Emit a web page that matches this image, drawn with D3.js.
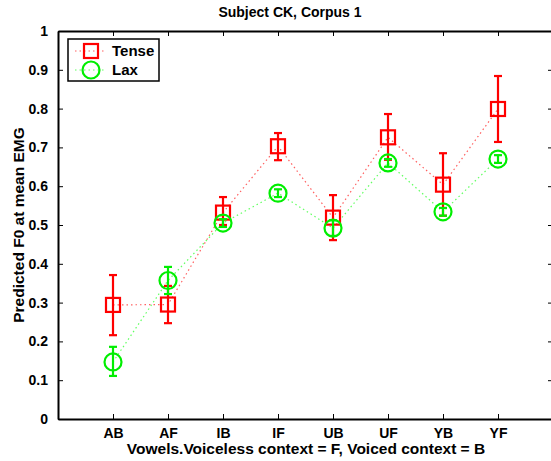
<!DOCTYPE html>
<html><head><meta charset="utf-8">
<script src="https://cdn.jsdelivr.net/npm/d3@7"></script>
<style>body{margin:0;background:#fff}svg{display:block}text{font-family:"Liberation Sans",Arial,sans-serif;font-weight:bold}</style>
</head><body>
<svg id="c" width="551" height="461"></svg>
<script>
const categories = ["AB","AF","IB","IF","UB","UF","YB","YF"];
const tenseMean = [0.294,0.295,0.532,0.703,0.519,0.726,0.604,0.799];
const tenseLow  = [0.216,0.247,0.500,0.667,0.461,0.668,0.524,0.714];
const tenseHigh = [0.371,0.343,0.572,0.737,0.577,0.786,0.685,0.884];
const laxMean = [0.147,0.357,0.505,0.582,0.492,0.660,0.534,0.670];
const laxLow  = [0.111,0.322,0.495,0.572,0.472,0.650,0.524,0.660];
const laxHigh = [0.186,0.392,0.515,0.592,0.512,0.670,0.544,0.680];
const yTicks = [0,0.1,0.2,0.3,0.4,0.5,0.6,0.7,0.8,0.9,1];

const svg = d3.select("#c");
const L=58, R=553, T=31, B=419;
const x = d3.scaleLinear().domain([0,9]).range([L,R]);
const y = d3.scaleLinear().domain([0,1]).range([B,T]);

// axes
const gx = svg.append("g").attr("transform",`translate(0,${B})`)
  .call(d3.axisBottom(x).tickValues(d3.range(1,9)).tickFormat(d=>categories[d-1]).tickSizeInner(-5).tickSizeOuter(0).tickPadding(9));
const gxt = svg.append("g").attr("transform",`translate(0,${T})`)
  .call(d3.axisTop(x).tickValues(d3.range(1,9)).tickFormat("").tickSizeInner(-5).tickSizeOuter(0));
const gy = svg.append("g").attr("transform",`translate(${L},0)`)
  .call(d3.axisLeft(y).tickValues(yTicks).tickFormat(d=>d3.format("")(+d.toFixed(1))).tickSizeInner(-5).tickSizeOuter(0).tickPadding(10));
const gyr = svg.append("g").attr("transform",`translate(${R},0)`)
  .call(d3.axisRight(y).tickValues(yTicks).tickFormat("").tickSizeInner(-5).tickSizeOuter(0));
[gx,gxt,gy,gyr].forEach(g=>{
  g.selectAll(".domain").attr("stroke","#000").attr("stroke-width",2);
  g.selectAll(".tick line").attr("stroke","#000").attr("stroke-width",1);
  g.selectAll("text").attr("font-size",14).attr("fill","#000").attr("font-family","Liberation Sans, Arial, sans-serif").attr("font-weight","bold");
});
gx.selectAll("text").attr("dy","0.71em");

// lines
const line = d3.line().x((d,i)=>x(i+1)).y(d=>y(d));
svg.append("path").datum(tenseMean).attr("d",line).attr("fill","none").attr("stroke","#ff6060").attr("stroke-width",1.2).attr("stroke-dasharray","1.5,3");
svg.append("path").datum(laxMean).attr("d",line).attr("fill","none").attr("stroke","#60ff60").attr("stroke-width",1.2).attr("stroke-dasharray","1.5,3");

function errbars(lo,hi,col){
  const g=svg.append("g").attr("stroke",col).attr("stroke-width",2.2).attr("fill","none");
  categories.forEach((c,i)=>{
    const cx=x(i+1);
    g.append("line").attr("x1",cx).attr("x2",cx).attr("y1",y(lo[i])).attr("y2",y(hi[i]));
    g.append("line").attr("x1",cx-4).attr("x2",cx+4).attr("y1",y(lo[i])).attr("y2",y(lo[i]));
    g.append("line").attr("x1",cx-4).attr("x2",cx+4).attr("y1",y(hi[i])).attr("y2",y(hi[i]));
  });
}
errbars(tenseLow,tenseHigh,"#ff0000");
svg.append("g").selectAll("rect").data(tenseMean).join("rect")
  .attr("x",(d,i)=>x(i+1)-7).attr("y",d=>y(d)-7).attr("width",14).attr("height",14)
  .attr("fill","none").attr("stroke","#ff0000").attr("stroke-width",2.2);
errbars(laxLow,laxHigh,"#00ee00");
svg.append("g").selectAll("circle").data(laxMean).join("circle")
  .attr("cx",(d,i)=>x(i+1)).attr("cy",d=>y(d)).attr("r",8.5)
  .attr("fill","none").attr("stroke","#00ee00").attr("stroke-width",2.2);

// legend
const lg=svg.append("g");
lg.append("rect").attr("x",68).attr("y",39).attr("width",91).attr("height",42).attr("fill","#fff").attr("stroke","#000").attr("stroke-width",1.5);
lg.append("line").attr("x1",75).attr("x2",106).attr("y1",51).attr("y2",51).attr("stroke","#ff6060").attr("stroke-width",1.2).attr("stroke-dasharray","1.5,3");
lg.append("rect").attr("x",84).attr("y",44).attr("width",14).attr("height",14).attr("fill","none").attr("stroke","#ff0000").attr("stroke-width",2.2);
lg.append("line").attr("x1",75).attr("x2",106).attr("y1",70).attr("y2",70).attr("stroke","#60ff60").attr("stroke-width",1.2).attr("stroke-dasharray","1.5,3");
lg.append("circle").attr("cx",91).attr("cy",70).attr("r",8.5).attr("fill","none").attr("stroke","#00ee00").attr("stroke-width",2.2);
lg.append("text").attr("x",112).attr("y",56).attr("font-size",15).text("Tense");
lg.append("text").attr("x",112).attr("y",75).attr("font-size",15).text("Lax");

// titles
svg.append("text").attr("x",290).attr("y",17).attr("text-anchor","middle").attr("font-size",14).text("Subject CK, Corpus 1");
svg.append("text").attr("x",306).attr("y",454).attr("text-anchor","middle").attr("font-size",15.5).text("Vowels.Voiceless context = F, Voiced context = B");
svg.append("text").attr("transform","translate(24,225) rotate(-90)").attr("text-anchor","middle").attr("font-size",15.5).text("Predicted F0 at mean EMG");
</script>
</body></html>
